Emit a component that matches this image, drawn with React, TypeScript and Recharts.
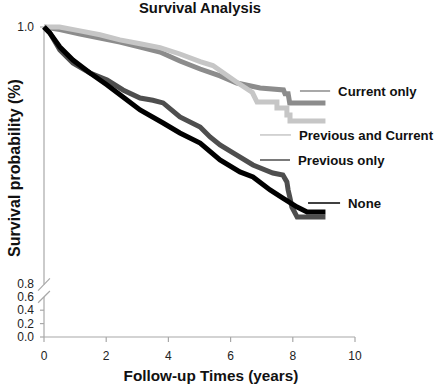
import { Customized, Line, LineChart, ReferenceLine, XAxis, YAxis } from 'recharts'

// Kaplan-Meier curves (time in years, survival probability)
const currentT = [0, 0.51, 1.16, 1.8, 2.44, 3.09, 3.73, 4.37, 5.02, 5.66, 6.2, 6.95, 7.7, 7.75, 7.85, 7.9, 9.05]
const currentS = [1.0, 0.998, 0.9946, 0.9914, 0.9883, 0.9844, 0.9805, 0.9735, 0.9673, 0.9619, 0.9564, 0.9525, 0.951, 0.948, 0.948, 0.9409, 0.9409]

const bothT = [0, 0.5, 1.16, 1.8, 2.44, 3.09, 3.73, 4.37, 5.02, 5.43, 6.2, 6.7, 6.85, 7.49, 7.49, 7.81, 7.81, 7.91, 7.91, 9.05]
const bothS = [1.0, 1.0, 0.997, 0.994, 0.99, 0.987, 0.984, 0.979, 0.973, 0.97, 0.957, 0.949, 0.9416, 0.9416, 0.937, 0.937, 0.9315, 0.9315, 0.9268, 0.9268]

const previousT = [0, 0.19, 0.51, 0.93, 1.48, 2.03, 2.54, 3.09, 3.5, 3.83, 4.37, 5.02, 5.34, 5.66, 6.08, 6.72, 7.36, 7.68, 7.81, 7.85, 7.91, 7.97, 8.14, 9.05]
const previousS = [1.0, 0.9953, 0.9821, 0.972, 0.9642, 0.9588, 0.951, 0.9447, 0.943, 0.9409, 0.93, 0.9222, 0.9144, 0.9082, 0.902, 0.8926, 0.8864, 0.8848, 0.8794, 0.8732, 0.8669, 0.8599, 0.8521, 0.8521]

const noneT = [0, 0.19, 0.51, 0.93, 1.48, 2.03, 2.54, 3.09, 3.83, 4.37, 5.02, 5.66, 6.3, 6.72, 7.27, 7.68, 8.14, 8.46, 9.05]
const noneS = [1.0, 0.9953, 0.9844, 0.9743, 0.9642, 0.9549, 0.9455, 0.9354, 0.9253, 0.9175, 0.9097, 0.8965, 0.8872, 0.8833, 0.8732, 0.8669, 0.8599, 0.856, 0.856]

const xTicks = [0, 2, 4, 6, 8, 10]
const yTicks = [0, 0.2, 0.4, 0.6, 0.8, 1.0]

// curve labels with their leader lines
const labelNames = ['Current only', 'Previous and Current', 'Previous only', 'None']
const labelFrom = [8.23, 6.945, 6.945, 8.49]
const labelTo = [9.2, 7.94, 7.91, 9.52]
const labelS = [0.9502, 0.916, 0.8965, 0.863]

const colors = ['#8c8c8c', '#c6c6c6', '#4e4e4e', '#000000']
const axisColor = '#a8a8a8'
const font = '"Liberation Sans", Arial, sans-serif'

/** broken y axis: 0-0.6 squeezed at the bottom, 0.8-1.0 stretched above the break */
function toD(v: number): number {
  if (v >= 0.7) return 53 + ((v - 0.8) / 0.2) * 257
  return (v / 0.2) * 13.4
}

const series = (t: number[], s: number[]) => t.map((x, i) => ({ t: x, d: toD(s[i]) }))

const curves = [
  { name: 'Current only', data: series(currentT, currentS), color: colors[0] },
  { name: 'Previous and Current', data: series(bothT, bothS), color: colors[1] },
  { name: 'Previous only', data: series(previousT, previousS), color: colors[2] },
  { name: 'None', data: series(noneT, noneS), color: colors[3] },
]

function yLabel(d: number): string {
  const v = yTicks.find((y) => Math.abs(toD(y) - d) < 0.01)
  return v === undefined ? '' : v.toFixed(1)
}

function Titles() {
  return (
    <g fontFamily={font} fontWeight="bold" fill="#111">
      <text x={200} y={13} fontSize={14.8} textAnchor="middle">
        Survival Analysis
      </text>
      <text x={211} y={381} fontSize={15.3} textAnchor="middle">
        Follow-up Times (years)
      </text>
      <text x={20} y={168} fontSize={16} textAnchor="middle" transform="rotate(-90 20 168)">
        Survival probability (%)
      </text>
    </g>
  )
}

export default function App() {
  return (
    <div style={{ position: 'absolute', left: 0, top: 0 }}>
      <LineChart
        width={440}
        height={386}
        margin={{ top: 27, right: 85, bottom: 19, left: 10 }}
        style={{ fontFamily: font, background: '#fff' }}
      >
        <XAxis
          dataKey="t"
          type="number"
          domain={[0, 10]}
          ticks={xTicks}
          interval={0}
          allowDuplicatedCategory={false}
          height={30}
          axisLine={{ stroke: axisColor, strokeWidth: 1.2 }}
          tickLine={{ stroke: axisColor, strokeWidth: 1.2 }}
          tickSize={5}
          tickMargin={9}
          tick={{ fill: '#222', fontSize: 12 }}
        />
        <YAxis
          type="number"
          domain={[0, 310]}
          ticks={yTicks.map(toD)}
          interval={0}
          tickFormatter={yLabel}
          width={34}
          axisLine={false}
          tickLine={false}
          tickMargin={4}
          tick={{ fill: '#222', fontSize: 12 }}
        />

        {/* y axis drawn in two pieces with break marks */}
        <ReferenceLine segment={[{ x: 0, y: toD(1.0) }, { x: 0, y: 52.5 }]} stroke={axisColor} strokeWidth={1.2} ifOverflow="visible" />
        <ReferenceLine segment={[{ x: 0, y: 40 }, { x: 0, y: 0 }]} stroke={axisColor} strokeWidth={1.2} ifOverflow="visible" />
        <ReferenceLine segment={[{ x: -0.19, y: 46.3 }, { x: 0.19, y: 58.7 }]} stroke={axisColor} strokeWidth={1.2} ifOverflow="visible" />
        <ReferenceLine segment={[{ x: -0.19, y: 34.3 }, { x: 0.19, y: 46 }]} stroke={axisColor} strokeWidth={1.2} ifOverflow="visible" />
        {[0, 0.2, 0.4, 1.0].map((v) => (
          <ReferenceLine
            key={v}
            segment={[{ x: -0.13, y: toD(v) }, { x: 0, y: toD(v) }]}
            stroke={axisColor}
            strokeWidth={1.2}
            ifOverflow="visible"
          />
        ))}

        {curves.map((c) => (
          <Line
            key={c.name}
            data={c.data}
            dataKey="d"
            type="linear"
            stroke={c.color}
            strokeWidth={5}
            strokeLinejoin="miter"
            dot={false}
            activeDot={false}
            isAnimationActive={false}
          />
        ))}

        {labelNames.map((name, i) => (
          <ReferenceLine
            key={name}
            segment={[{ x: labelFrom[i], y: toD(labelS[i]) }, { x: labelTo[i], y: toD(labelS[i]) }]}
            stroke={colors[i]}
            strokeWidth={1.5}
            ifOverflow="visible"
            label={{ value: name, position: 'right', offset: 8, fill: '#111', fontSize: 13.2, fontWeight: 'bold' }}
          />
        ))}

        <Customized component={Titles} />
      </LineChart>
    </div>
  )
}
